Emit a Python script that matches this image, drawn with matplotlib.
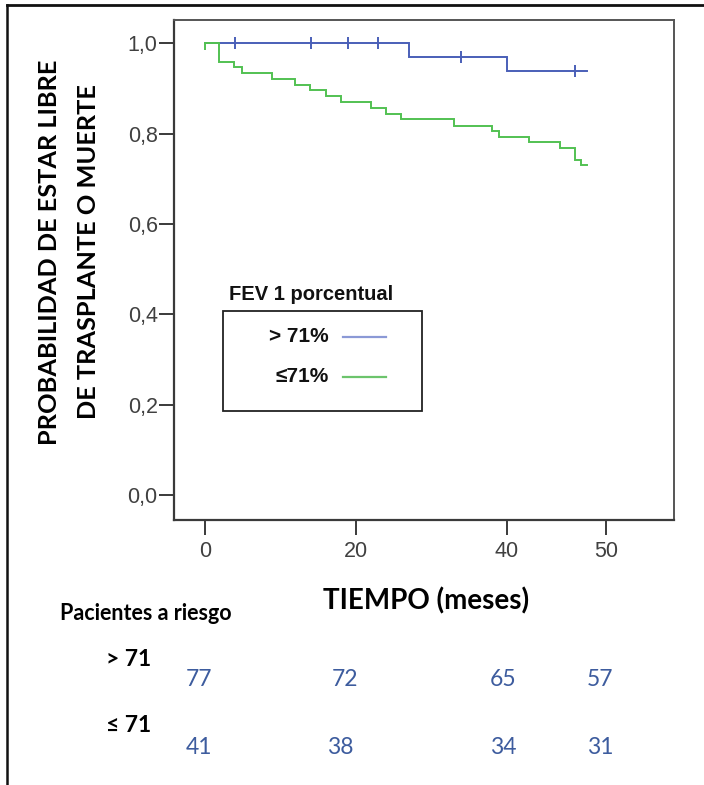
import matplotlib
matplotlib.use('Agg')
import matplotlib.pyplot as plt
import numpy as np
from matplotlib.lines import Line2D
from matplotlib.patches import Rectangle

# ---------------- data ----------------
blue_event_times = [0, 27, 40]
blue_surv = [1.0, 0.969, 0.939]
blue_end = 50.6
blue_censor = [4, 14, 19, 23, 34, 49]

green_event_times = [0, 1.9, 3.9, 4.9, 8.9, 11.9, 13.9, 16.0, 18.0, 22.0,
                     24.0, 26.0, 33.0, 38.0, 39.0, 43.0, 47.0, 49.0, 49.9]
green_surv = [1.0, 0.959, 0.947, 0.935, 0.921, 0.908, 0.896, 0.883, 0.870, 0.856,
              0.844, 0.832, 0.818, 0.806, 0.793, 0.781, 0.768, 0.742, 0.730]
green_end = 50.6
green_censor = [0]

x_tick_values = [0, 20, 40, 53.2]
x_tick_labels = ['0', '20', '40', '50']
y_tick_values = [0.0, 0.2, 0.4, 0.6, 0.8, 1.0]
y_tick_labels = ['0,0', '0,2', '0,4', '0,6', '0,8', '1,0']

legend_labels = ['> 71%', '\u226471%']
risk_groups = ['> 71', '\u2264 71']
risk_gt71 = [77, 72, 65, 57]
risk_le71 = [41, 38, 34, 31]

BLUE = '#4a5fb8'
GREEN = '#52c152'
BLUE_LEG = '#8b99d6'
GREEN_LEG = '#6cc46c'
NUM_BLUE = '#3d5c9e'

W, H = 704, 785
fig = plt.figure(figsize=(W / 100, H / 100), dpi=100)

def fx(px):
    return px / W

def fy(py):
    return 1 - py / H

# axes box in pixels: left 174.3, right 674.3, top 20, bottom 520
ax = fig.add_axes([fx(174.3), fy(520), (674.3 - 174.3) / W, (520 - 20) / H])
ax.set_xlim(-4.07, 62.22)
ax.set_ylim(-0.0553, 1.0516)

def step_xy(times, surv, end):
    xs = list(times) + [end]
    ys = list(surv) + [surv[-1]]
    return xs, ys

def surv_at(times, surv, t):
    idx = np.searchsorted(times, t, side='right') - 1
    return surv[max(idx, 0)]

bx, by = step_xy(blue_event_times, blue_surv, blue_end)
ax.step(bx, by, where='post', color=BLUE, lw=1.4, solid_joinstyle='miter')
ax.plot(blue_censor, [surv_at(blue_event_times, blue_surv, t) for t in blue_censor],
        ls='none', marker='|', ms=9, mew=1.4, color=BLUE)

gx, gy = step_xy(green_event_times, green_surv, green_end)
ax.step(gx, gy, where='post', color=GREEN, lw=1.4, solid_joinstyle='miter')
ax.plot(green_censor, [surv_at(green_event_times, green_surv, t) for t in green_censor],
        ls='none', marker=3, ms=5, mew=1.4, color=GREEN)

for side in ['left', 'bottom']:
    ax.spines[side].set_color('#3a3a3a')
    ax.spines[side].set_linewidth(1.6)
for side in ['top', 'right']:
    ax.spines[side].set_color('#555555')
    ax.spines[side].set_linewidth(1.4)

ax.set_xticks(x_tick_values)
ax.set_xticklabels(x_tick_labels)
ax.set_yticks(y_tick_values)
ax.set_yticklabels(y_tick_labels)
ax.tick_params(axis='both', direction='out', length=11, width=1.4, color='#3a3a3a',
               labelsize=15.5, labelcolor='#404040')
ax.tick_params(axis='y', pad=1)
ax.tick_params(axis='x', pad=4)
for lab in ax.get_xticklabels() + ax.get_yticklabels():
    lab.set_fontfamily('Liberation Sans')

# ---------------- legend (drawn manually) ----------------
fig.text(fx(229), fy(295), 'FEV 1 porcentual', fontsize=14.5, fontweight='bold',
         family='Liberation Sans', ha='left', va='center', color='#111111')
fig.patches.append(Rectangle((fx(222.5), fy(411)), (421.7 - 222.5) / W, (411 - 311) / H,
                             transform=fig.transFigure, fill=False, ec='#222222', lw=1.3))
leg_rows_y = [337, 377]
leg_colors = [BLUE_LEG, GREEN_LEG]
for lab, yy, col in zip(legend_labels, leg_rows_y, leg_colors):
    fig.text(fx(329), fy(yy), lab, fontsize=15, fontweight='bold',
             family='Liberation Sans', ha='right', va='center', color='#111111')
    fig.lines.append(Line2D([fx(343), fx(386)], [fy(yy), fy(yy)], transform=fig.transFigure,
                            color=col, lw=1.6))

# ---------------- axis labels ----------------
fig.text(fx(50), fy(252), 'PROBABILIDAD DE ESTAR LIBRE', rotation=90, fontsize=18.3,
         fontweight='bold', family='Lato', ha='center', va='center', color='#000000')
fig.text(fx(89), fy(252), 'DE TRASPLANTE O MUERTE', rotation=90, fontsize=18.3,
         fontweight='bold', family='Lato', ha='center', va='center', color='#000000')
fig.text(fx(426), fy(601), 'TIEMPO (meses)', fontsize=20, fontweight='bold',
         family='Lato', ha='center', va='center', color='#000000')

# ---------------- risk table ----------------
fig.text(fx(60), fy(614), 'Pacientes a riesgo', fontsize=15.5, fontweight='bold',
         family=['Lato', 'DejaVu Sans'], ha='left', va='center', color='#000000')
group_y = [660, 726]
for g, yy in zip(risk_groups, group_y):
    fig.text(fx(106), fy(yy), g, fontsize=16.5, fontweight='bold',
             family=['Lato', 'DejaVu Sans'], ha='left', va='center', color='#000000')

row1_x = [199, 345, 503, 600]
row2_x = [199, 340, 503, 600]
for v, xx in zip(risk_gt71, row1_x):
    fig.text(fx(xx), fy(680), str(v), fontsize=16.5, family='Lato', ha='center',
             va='center', color=NUM_BLUE)
for v, xx in zip(risk_le71, row2_x):
    fig.text(fx(xx), fy(748), str(v), fontsize=16.5, family='Lato', ha='center',
             va='center', color=NUM_BLUE)

# ---------------- outer frame ----------------
fig.lines.append(Line2D([fx(7), fx(704)], [fy(5), fy(5)], transform=fig.transFigure,
                        color='#111111', lw=2.0))
fig.lines.append(Line2D([fx(7.5), fx(7.5)], [fy(5), fy(785)], transform=fig.transFigure,
                        color='#111111', lw=1.8))

fig.savefig('out.png', dpi=100)
